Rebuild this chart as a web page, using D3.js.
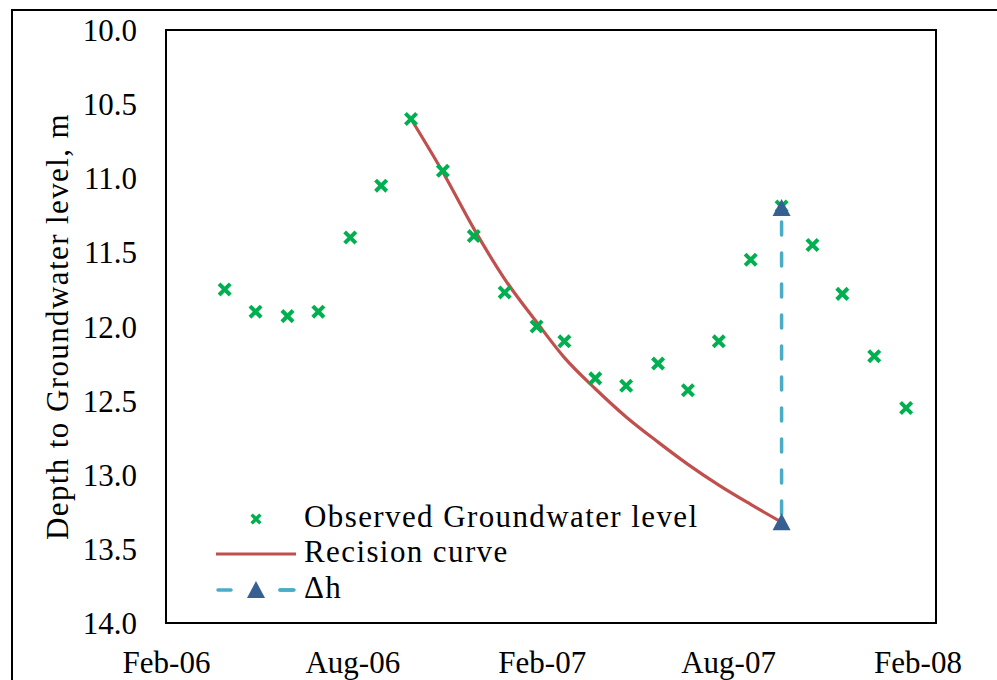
<!DOCTYPE html>
<html>
<head>
<meta charset="utf-8">
<script src="https://cdn.jsdelivr.net/npm/d3@7"></script>
<style>
  body { margin: 0; background: #fff; }
</style>
</head>
<body>
<div id="chart"></div>
<script>
// observed monthly groundwater depth (m below ground)
var obsDates = ["2006-03-30", "2006-04-29", "2006-05-30", "2006-06-29", "2006-07-30", "2006-08-29",
  "2006-09-27", "2006-10-28", "2006-11-27", "2006-12-27", "2007-01-27", "2007-02-23",
  "2007-03-25", "2007-04-24", "2007-05-25", "2007-06-23", "2007-07-23", "2007-08-23",
  "2007-09-22", "2007-10-22", "2007-11-20", "2007-12-21", "2008-01-21"];
var obsDepth = [11.75, 11.90, 11.93, 11.90, 11.40, 11.05, 10.60, 10.95, 11.39, 11.77, 12.00, 12.10,
  12.35, 12.40, 12.25, 12.43, 12.10, 11.55, 11.19, 11.45, 11.78, 12.20, 12.55];

// recision curve from the peak
var recDates = ["2006-09-27", "2006-10-28", "2006-11-27", "2006-12-27", "2007-01-27", "2007-02-23",
  "2007-03-25", "2007-04-24", "2007-05-25", "2007-06-23", "2007-07-23", "2007-08-23", "2007-09-22"];
var recDepth = [10.60, 10.96, 11.34, 11.68, 11.97, 12.21, 12.42, 12.61, 12.78, 12.93, 13.07, 13.20, 13.32];

// delta h
var dhDates = ["2007-09-22", "2007-09-22"];
var dhDepth = [11.20, 13.32];

// axes
var xTicks = ["2006-02-01", "2006-08-01", "2007-02-01", "2007-08-01", "2008-02-01"];
var xDomain = ["2006-02-01", "2008-02-19"];
var yTicks = [10.0, 10.5, 11.0, 11.5, 12.0, 12.5, 13.0, 13.5, 14.0];

var legendLabels = ["Observed Groundwater level", "Recision curve", "\u0394h"];

var FONT = "'Liberation Serif', 'DejaVu Serif', serif";

var parse = d3.utcParse("%Y-%m-%d");
var fmt = d3.utcFormat("%b-%y");

var svgWidth = 997;
var svgHeight = 680;
var margin = { top: 30, right: 61, bottom: 57, left: 166 };
var width = svgWidth - margin.left - margin.right;
var height = svgHeight - margin.top - margin.bottom;

var svg = d3.select("#chart")
  .append("svg")
  .attr("width", svgWidth)
  .attr("height", svgHeight)
  .attr("font-family", FONT);

// outer frame (runs off the page right and bottom)
svg.append("rect")
  .attr("x", 12)
  .attr("y", 10)
  .attr("width", 1000)
  .attr("height", 700)
  .attr("fill", "none")
  .attr("stroke", "#000")
  .attr("stroke-width", 2);

var chartGroup = svg.append("g")
  .attr("transform", `translate(${margin.left}, ${margin.top})`);

var xScale = d3.scaleUtc()
  .domain(xDomain.map(parse))
  .range([0, width]);

var yScale = d3.scaleLinear()
  .domain([10, 14])
  .range([0, height]);

// y axis labels
var yAxis = d3.axisLeft(yScale)
  .tickValues(yTicks)
  .tickFormat(d3.format(".1f"))
  .tickSize(0)
  .tickPadding(29);

chartGroup.append("g")
  .call(yAxis)
  .attr("font-family", FONT)
  .attr("font-size", 31)
  .call(g => g.select(".domain").remove())
  .selectAll("text")
  .attr("fill", "#000")
  .attr("dy", "0.34em");

// x axis labels
var xAxis = d3.axisBottom(xScale)
  .tickValues(xTicks.map(parse))
  .tickFormat(fmt)
  .tickSize(0)
  .tickPadding(0);

chartGroup.append("g")
  .attr("transform", `translate(0, ${height})`)
  .call(xAxis)
  .attr("font-family", FONT)
  .attr("font-size", 31)
  .call(g => g.select(".domain").remove())
  .selectAll("text")
  .attr("fill", "#000")
  .attr("dy", null)
  .attr("y", 50);

// plot border
chartGroup.append("rect")
  .attr("width", width)
  .attr("height", height)
  .attr("fill", "none")
  .attr("stroke", "#000")
  .attr("stroke-width", 2);

// y axis title
chartGroup.append("text")
  .attr("transform", "rotate(-90)")
  .attr("x", -height / 2)
  .attr("y", -98)
  .attr("text-anchor", "middle")
  .attr("font-family", FONT)
  .attr("font-size", 31)
  .attr("letter-spacing", 1.4)
  .text("Depth to Groundwater level, m");

var xMark = function (s) {
  return `M${-s},${-s}L${s},${s}M${-s},${s}L${s},${-s}`;
};
var triMark = "M0,-9L9,8L-9,8Z";

var obs = obsDates.map((d, i) => ({ date: parse(d), depth: obsDepth[i] }));
var rec = recDates.map((d, i) => ({ date: parse(d), depth: recDepth[i] }));
var dh = dhDates.map((d, i) => ({ date: parse(d), depth: dhDepth[i] }));

// recision curve
var line = d3.line()
  .x(d => xScale(d.date))
  .y(d => yScale(d.depth))
  .curve(d3.curveMonotoneX);

chartGroup.append("path")
  .datum(rec)
  .attr("d", line)
  .attr("fill", "none")
  .attr("stroke", "#C0504D")
  .attr("stroke-width", 3.2);

// delta h dashed line
chartGroup.append("path")
  .datum(dh)
  .attr("d", d3.line().x(d => xScale(d.date)).y(d => yScale(d.depth)))
  .attr("fill", "none")
  .attr("stroke", "#4BACC6")
  .attr("stroke-width", 3.5)
  .attr("stroke-linecap", "round")
  .attr("stroke-dasharray", "13,18")
  .attr("stroke-dashoffset", -14);

// observed points
chartGroup.selectAll("path.obs")
  .data(obs)
  .enter()
  .append("path")
  .attr("class", "obs")
  .attr("transform", d => `translate(${xScale(d.date)}, ${yScale(d.depth)})`)
  .attr("d", xMark(5.6))
  .attr("fill", "none")
  .attr("stroke", "#00B050")
  .attr("stroke-width", 4);

// delta h triangles
chartGroup.selectAll("path.dh")
  .data(dh)
  .enter()
  .append("path")
  .attr("class", "dh")
  .attr("transform", d => `translate(${xScale(d.date)}, ${yScale(d.depth)})`)
  .attr("d", triMark)
  .attr("fill", "#376092");

// legend
var legend = svg.append("g");
var legY = [519, 554, 590];

legend.append("path")
  .attr("transform", `translate(256, ${legY[0]})`)
  .attr("d", xMark(4.4))
  .attr("fill", "none")
  .attr("stroke", "#00B050")
  .attr("stroke-width", 3.4);

legend.append("line")
  .attr("x1", 216).attr("x2", 296)
  .attr("y1", legY[1]).attr("y2", legY[1])
  .attr("stroke", "#C0504D")
  .attr("stroke-width", 3.2);

legend.append("line")
  .attr("x1", 218).attr("x2", 296)
  .attr("y1", legY[2]).attr("y2", legY[2])
  .attr("stroke", "#4BACC6")
  .attr("stroke-width", 3.5)
  .attr("stroke-linecap", "round")
  .attr("stroke-dasharray", "13,49");

legend.append("line")
  .attr("x1", 280).attr("x2", 294)
  .attr("y1", legY[2]).attr("y2", legY[2])
  .attr("stroke", "#4BACC6")
  .attr("stroke-width", 3.5)
  .attr("stroke-linecap", "round");

legend.append("path")
  .attr("transform", `translate(256, ${legY[2]})`)
  .attr("d", triMark)
  .attr("fill", "#376092");

legend.selectAll("text")
  .data(legendLabels)
  .enter()
  .append("text")
  .attr("x", 304)
  .attr("y", (d, i) => legY[i] + 8)
  .attr("font-family", FONT)
  .attr("font-size", 31)
  .attr("letter-spacing", 1.4)
  .attr("fill", "#000")
  .text(d => d);
</script>
</body>
</html>
